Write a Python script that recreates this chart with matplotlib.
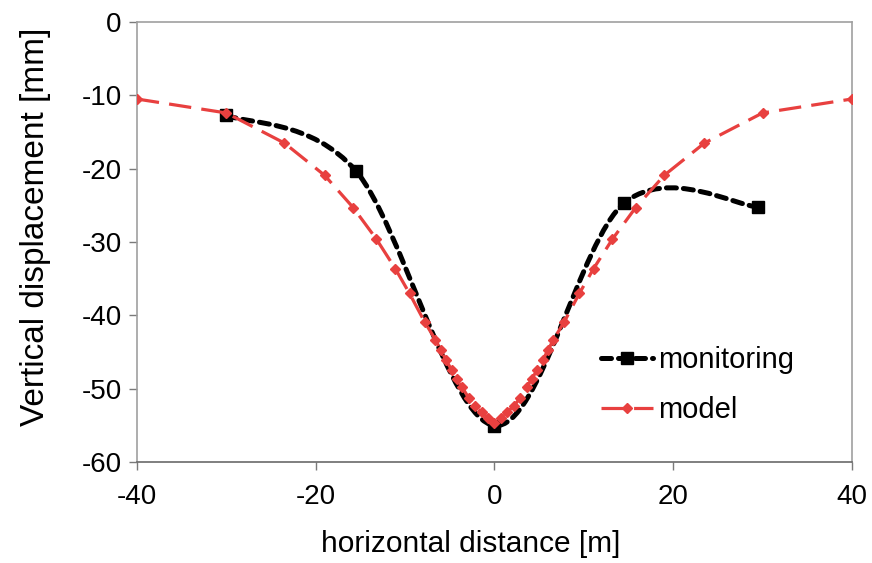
import numpy as np
import matplotlib.pyplot as plt
from matplotlib.path import Path
from matplotlib.patches import PathPatch
from matplotlib.lines import Line2D

plt.rcParams['font.family'] = ['Liberation Sans', 'DejaVu Sans']
plt.rcParams['axes.unicode_minus'] = False

# monitoring data (black squares)
mon_x = [-30, -15.5, 0, 14.5, 29.5]
mon_y = [-12.7, -20.3, -55.0, -24.7, -25.2]

# model data (red diamonds), symmetric about x = 0
half_x = [-40, -30, -23.5, -19, -15.8, -13.2, -11.1, -9.5, -7.8, -6.6, -6.0,
          -5.4, -4.8, -4.2, -3.6, -2.9, -2.2, -1.4, -0.7]
half_y = [-10.5, -12.4, -16.5, -20.9, -25.3, -29.6, -33.6, -37.0, -40.9, -43.3,
          -44.7, -46.1, -47.4, -48.6, -49.8, -51.2, -52.3, -53.2, -54.0]
mod_x = half_x + [0] + [-v for v in half_x[::-1]]
mod_y = half_y + [-54.6] + half_y[::-1]

black = '#000000'
red = '#e8403f'


def smooth_path(xs, ys):
    # Excel style smoothed line: cubic Bezier segments with Catmull-Rom control points
    p = np.column_stack([xs, ys]).astype(float)
    verts = [p[0]]
    codes = [Path.MOVETO]
    n = len(p)
    for i in range(n - 1):
        p0 = p[i - 1] if i > 0 else p[i]
        p1 = p[i]
        p2 = p[i + 1]
        p3 = p[i + 2] if i + 2 < n else p[i + 1]
        c1 = p1 + (p2 - p0) / 6
        c2 = p2 - (p3 - p1) / 6
        verts += [c1, c2, p2]
        codes += [Path.CURVE4] * 3
    return Path(verts, codes)


fig = plt.figure(figsize=(8.72, 5.63), dpi=100)
ax = fig.add_axes([0.157, 0.179, 0.820, 0.782])

mon_dash = (0, (2.0, 1.4))
mon_lw = 3.6
patch = PathPatch(smooth_path(mon_x, mon_y), facecolor='none', edgecolor=black,
                  lw=mon_lw, linestyle=mon_dash, capstyle='round', zorder=2)
ax.add_patch(patch)
ax.plot(mon_x, mon_y, linestyle='none', marker='s', ms=8, color=black, zorder=3)

mod_dash = (0, (7, 3.2))
mod_lw = 2.3
ax.plot(mod_x, mod_y, color=red, lw=mod_lw, linestyle=mod_dash,
        marker='D', ms=5.5, zorder=4)

ax.set_xlim(-40, 40)
ax.set_ylim(-60, 0)
ax.set_xticks([-40, -20, 0, 20, 40])
ax.set_yticks([0, -10, -20, -30, -40, -50, -60])

for s in ['left', 'top', 'right']:
    ax.spines[s].set_color('#a0a0a0')
    ax.spines[s].set_linewidth(1.2)
ax.spines['bottom'].set_color('#6a6a6a')
ax.spines['bottom'].set_linewidth(1.2)
ax.tick_params(axis='both', direction='out', length=6, width=1.0,
               color='#7a7a7a', labelsize=20)
ax.tick_params(axis='y', pad=5)
ax.tick_params(axis='x', pad=10)

ax.set_xlabel('horizontal distance [m]', fontsize=21.5, labelpad=14)
ax.set_ylabel('Vertical displacement [mm]', fontsize=24, labelpad=22)
ax.xaxis.label.set_x(0.467)
ax.yaxis.label.set_y(0.534)

handles = [
    Line2D([], [], color=black, lw=mon_lw, linestyle=mon_dash, dash_capstyle='round',
           marker='s', ms=8),
    Line2D([], [], color=red, lw=mod_lw, linestyle=mod_dash, marker='D', ms=5.5),
]
ax.legend(handles, ['monitoring', 'model'], loc='center left',
          bbox_to_anchor=(0.649, 0.175), frameon=False, fontsize=21,
          handlelength=1.8, handletextpad=0.15, labelspacing=0.75,
          borderpad=0.0, borderaxespad=0.0)

fig.savefig('out.png', dpi=100)
